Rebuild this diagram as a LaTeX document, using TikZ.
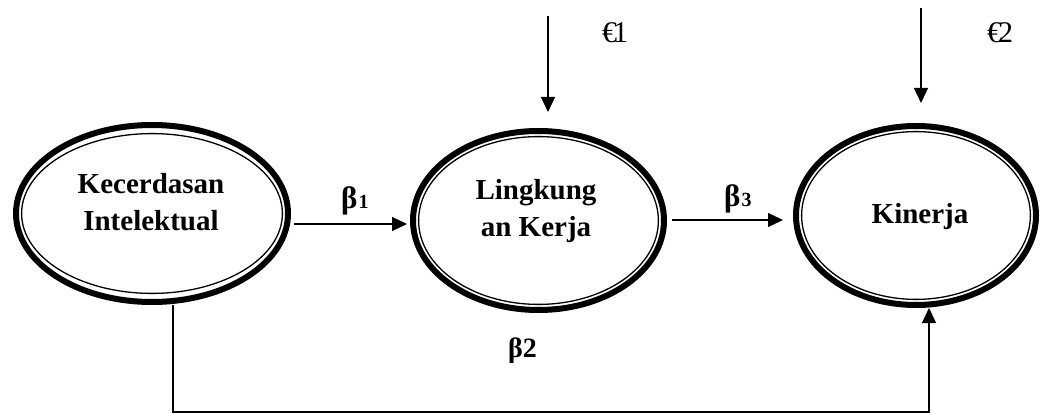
\documentclass[tikz,border=0pt]{standalone}
\usepackage{fontspec}
\setmainfont{Liberation Serif}
\usetikzlibrary{arrows.meta,shapes.geometric}
\begin{document}
\begin{tikzpicture}[x=1pt,y=-1pt,
  var/.style={ellipse, draw, line width=6pt, inner sep=0pt},
  innerline/.style={line width=1.3pt},
  vartext/.style={font=\bfseries\fontsize{29}{36.5}\selectfont, align=center, inner sep=0pt},
  coef/.style={font=\bfseries\fontsize{31}{31}\selectfont, inner sep=0pt, anchor=base west},
  err/.style={font=\fontsize{30}{30}\selectfont, inner sep=0pt, anchor=base west},
  arr/.style={line width=1.3pt, -{Triangle[length=15pt,width=14pt]}}]
\useasboundingbox (0,0) rectangle (1041,414);

% latent variables: thick outer ring with a thin inner ring
\node[var, minimum width=272pt, minimum height=177pt] (ki) at (152,213.5) {};
\draw[innerline] (ki.center) ellipse [x radius=130.4pt, y radius=79.9pt];
\node[vartext] (kit) at (151,202.2) {Kecerdasan\\Intelektual};

\node[var, minimum width=251pt, minimum height=179pt] (li) at (538.5,220.5) {};
\draw[innerline] (li.center) ellipse [x radius=119.9pt, y radius=83.9pt];
\node[vartext] (lit) at (536,210.9) {Lingkung\\an Kerja};

\node[var, minimum width=240pt, minimum height=179pt] (ke) at (916,215.5) {};
\draw[innerline] (ke.center) ellipse [x radius=114.4pt, y radius=83.9pt];
\node[vartext] (ket) at (920,216.5) {Kinerja};

% paths between variables
\draw[arr, shorten <=3pt, shorten >=3pt] (ki.east |- 0,224) -- (li.west |- 0,224);
\draw[arr, shorten <=5pt, shorten >=10pt] (li.east |- 0,220) -- (ke.west |- 0,220);

\coordinate (c1) at (173,412);
\coordinate (c2) at (929,412);
\draw[arr, line join=miter] (ki.south -| c1) -- (c1) -- (c2) -- (ke.south -| c2);

% error terms
\coordinate (e1) at (548,16);
\coordinate (e2) at (921,8);
\draw[arr, shorten >=16pt] (e1) -- (e1 |- li.north);
\draw[arr, shorten >=20pt] (e2) -- (e2 |- ke.north);

% labels
\node[coef] (b1) at (341,208) {β\kern1pt\fontsize{20}{20}\selectfont 1};
\node[coef] (b3) at (724,207) {β\kern1pt\fontsize{20}{20}\selectfont 3};
\node[coef, font=\bfseries\fontsize{28}{28}\selectfont] (b2) at (508,357) {β2};
\node[err] (l1) at (602,43) {€\kern-4pt 1};
\node[err] (l2) at (987,43) {€\kern-4pt 2};
\end{tikzpicture}
\end{document}
